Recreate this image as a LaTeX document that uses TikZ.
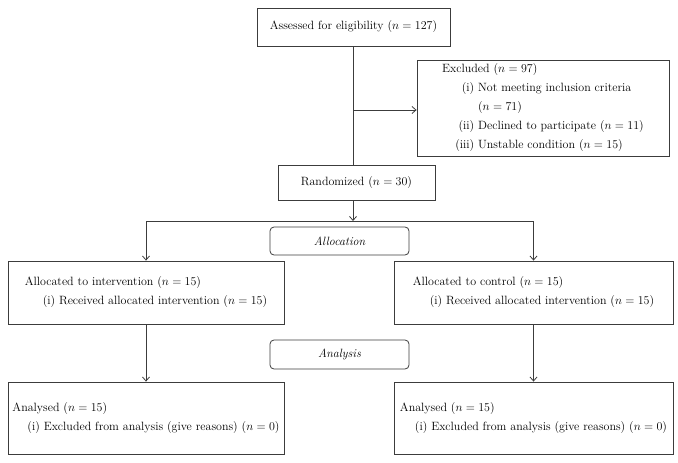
\documentclass[tikz,border=0pt]{standalone}
\usepackage{amsmath}
\usepackage{tikz}
\usetikzlibrary{arrows.meta, calc, positioning}
\tikzset{>={Straight Barb[length=4pt,width=7pt]}}
\definecolor{mygray}{HTML}{3c3c3c}
\newcommand{\lbl}[1]{\hspace*{12pt}\makebox[20pt][r]{#1}\ }

\begin{document}
\begin{tikzpicture}[x=1pt, y=-1pt,
		font=\fontsize{12}{19}\selectfont,
		box/.style={draw=mygray, line width=0.8pt, align=left, inner sep=0pt},
		stage/.style={draw=mygray, line width=0.8pt, rounded corners=4pt, inner sep=0pt, font=\fontsize{12}{19}\selectfont\itshape},
		link/.style={mygray, line width=0.8pt, ->}]
			\useasboundingbox (0,0) rectangle (678,463);
			\node[box, minimum width=193pt, minimum height=38pt] (assess) at (353.5,27) {Assessed for eligibility (\(n = 127\))};
			\node[box, minimum width=252pt, minimum height=96pt] (excl) at (543,108) {Excluded (\(n = 97\))\\
				\lbl{(i)}Not meeting inclusion criteria\\
				\hspace*{32pt}\ (\(n = 71\))\\
				\lbl{(ii)}Declined to participate (\(n = 11\))\\
				\lbl{(iii)}Unstable condition (\(n = 15\))};
			\node[box, minimum width=157pt, minimum height=35pt] (rand) at (356.5,182.5) {Randomized (\(n = 30\))};
			\node[stage, minimum width=139pt, minimum height=28pt] (alloc) at (339.5,241) {Allocation};
			\node[box, minimum width=276pt, minimum height=63pt] (interv) at (146,292.5) {Allocated to intervention (\(n = 15\))\\
				\hspace*{18pt}(i) Received allocated intervention (\(n = 15\))};
			\node[box, minimum width=279pt, minimum height=63pt] (ctrl) at (533.5,292.5) {Allocated to control (\(n = 15\))\\
				\hspace*{17pt}(i) Received allocated intervention (\(n = 15\))};
			\node[stage, minimum width=139pt, minimum height=29pt] (analysis) at (339.5,354.5) {Analysis};
			\node[box, minimum width=276pt, minimum height=72pt] (anl) at (146,418) {Analysed (\(n = 15\))\\
				\hspace*{15pt}(i) Excluded from analysis (give reasons) (\(n = 0\))};
			\node[box, minimum width=279pt, minimum height=72pt] (anr) at (533.5,418) {Analysed (\(n = 15\))\\
				\hspace*{15pt}(i) Excluded from analysis (give reasons) (\(n = 0\))};
			\coordinate (branch) at (353,110);
			\coordinate (split) at (353,221);
			\draw[mygray, line width=0.8pt] (assess.south) -- (assess.south |- rand.north);
			\draw[link] (branch) -- (branch -| excl.west);
			\draw[link] (split |- rand.south) -- (split);
			\draw[link] (split) -| (interv.north);
			\draw[link] (split) -| (ctrl.north);
			\draw[link] (interv) -- (anl);
			\draw[link] (ctrl) -- (anr);
		\end{tikzpicture}
\end{document}
